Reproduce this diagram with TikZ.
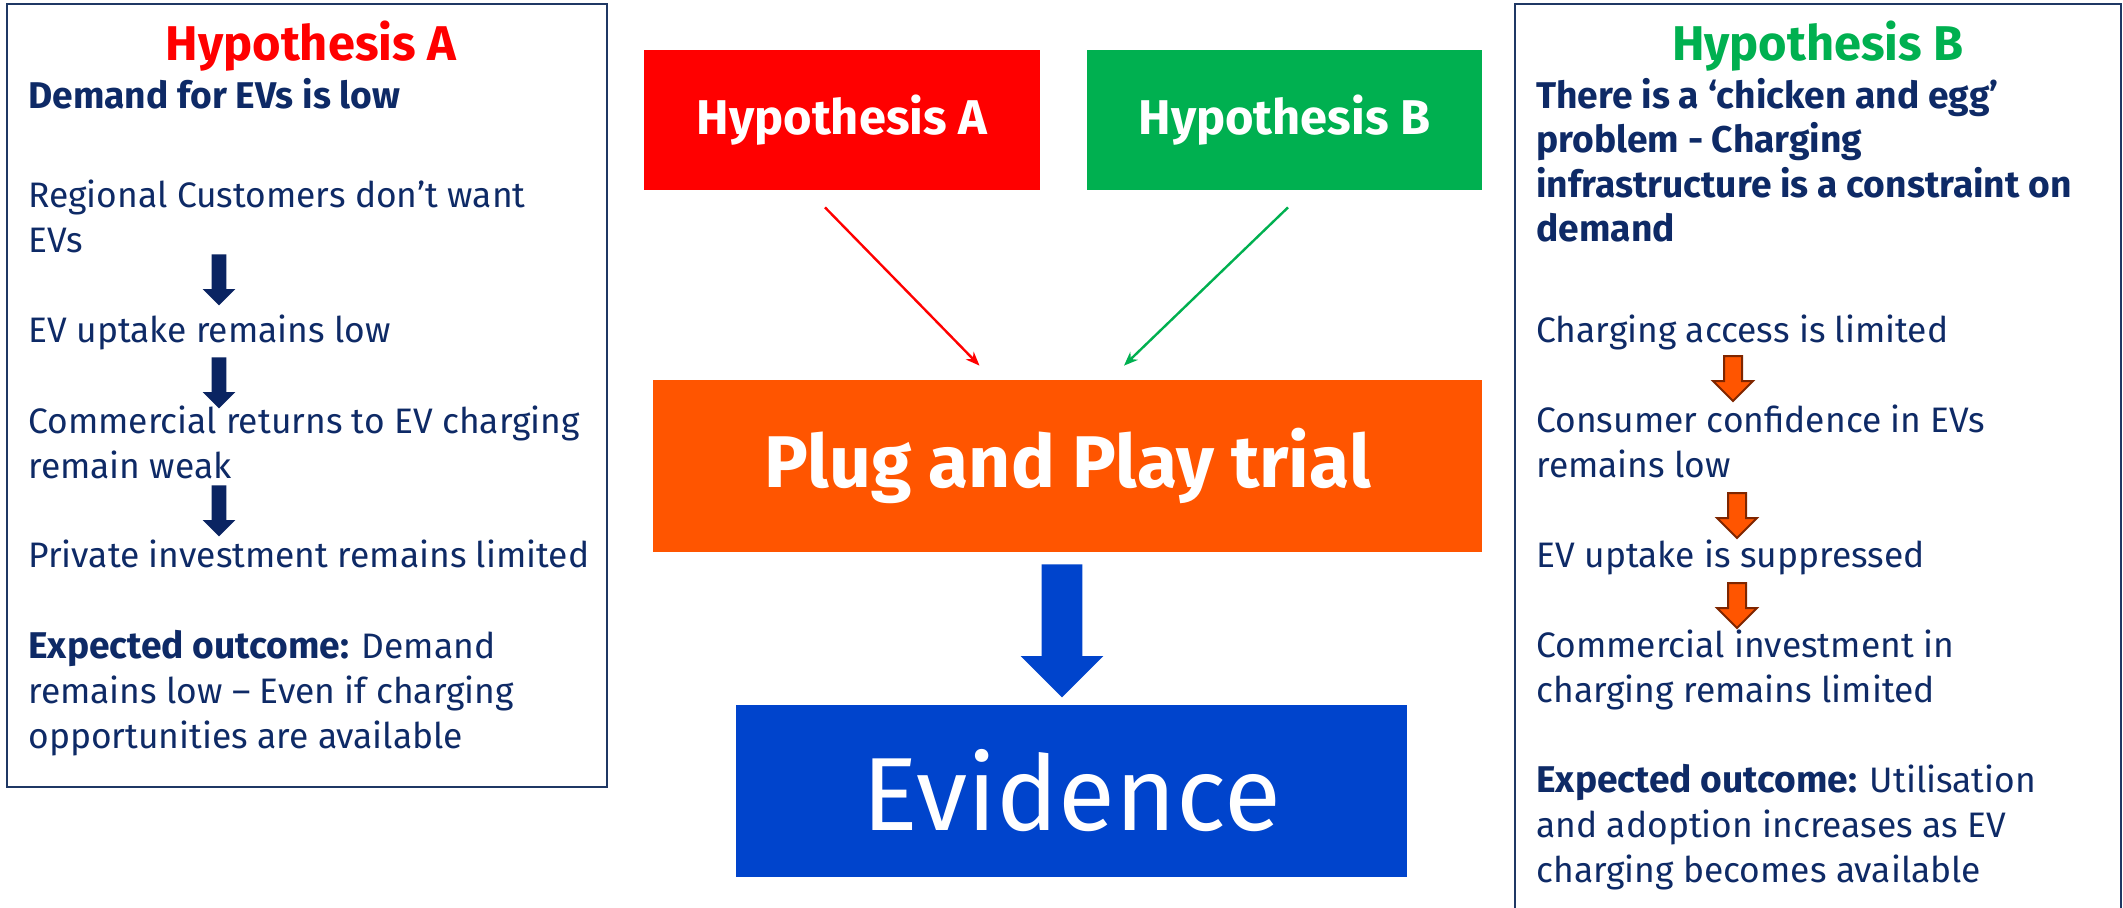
\documentclass[tikz,border=0pt]{standalone}
\usepackage{fontspec}
\setmainfont{Fira Sans}
\usetikzlibrary{arrows.meta,shapes.arrows}
\definecolor{navy}{HTML}{0E2A66}
\definecolor{navyfill}{HTML}{0A2462}
\definecolor{frame}{HTML}{1F3864}
\definecolor{hypred}{HTML}{FF0000}
\definecolor{hypgreen}{HTML}{00B050}
\definecolor{trialorange}{HTML}{FF5500}
\definecolor{arrowbrown}{HTML}{7F2600}
\definecolor{evblue}{HTML}{0044CC}
\newcommand{\keyterm}[1]{{\fontsize{18.6}{22.5}\selectfont\bfseries #1}}

\begin{document}
\begin{tikzpicture}[x=0.5pt, y=-0.5pt,
    panel/.style={draw=frame, line width=1pt, inner sep=0},
    block/.style={inner sep=0, text=white},
    body/.style={anchor=base west, align=left, inner sep=0, text=navy, font=\fontsize{17.7}{22.5}\selectfont},
    claim/.style={body, font=\fontsize{18.6}{22.25}\selectfont\bfseries},
    heading/.style={anchor=base, inner sep=0, font=\fontsize{24.4}{28}\selectfont\bfseries},
    thinarrow/.style={line width=1.2pt, -{Stealth[length=7pt, width=5.5pt]}},
    navyarrow/.style={single arrow, rotate=-90, anchor=tail, fill=navyfill, inner xsep=0, inner ysep=3.5pt,
        minimum width=16pt, minimum height=25.5pt, single arrow head extend=4.5pt},
    orangearrow/.style={single arrow, rotate=-90, anchor=tail, fill=trialorange, draw=arrowbrown, line width=1pt,
        inner xsep=0, inner ysep=4pt, minimum width=19pt, minimum height=22.5pt, single arrow head extend=5.5pt},
    bigarrow/.style={single arrow, rotate=-90, anchor=tail, fill=evblue, inner xsep=0, inner ysep=10pt,
        minimum width=41pt, minimum height=66.5pt, single arrow head extend=10.5pt}]
    \useasboundingbox (0,0) rectangle (2123,907);
    \fill[white] (0,0) rectangle (2123,907);

    \node[panel, minimum width=300pt, minimum height=391.5pt] (pana) at (307,395.5) {};
    \node[panel, minimum width=303pt, minimum height=458pt] (panb) at (1818,462) {};

    \node[heading, text=hypred] (titlea) at (311,60) {Hypothesis A};
    \node[claim] (claima) at (28,108) {Demand for EVs is low};
    \node[body] (a1) at (28,252) {Regional Customers don’t want\\EVs};
    \node[body] (a2) at (28,342) {EV uptake remains low};
    \node[body] (a3) at (28,478) {Commercial returns to EV charging\\remain weak};
    \node[body] (a4) at (28,567) {Private investment remains limited};
    \node[body] (outa) at (28,748) {\keyterm{Expected outcome:} Demand\\remains low – Even if charging\\opportunities are available};
    \node[navyarrow] (da1) at (219,254) {};
    \node[navyarrow] (da2) at (219,357) {};
    \node[navyarrow] (da3) at (219,485) {};

    \node[heading, text=hypgreen] (titleb) at (1818,60) {Hypothesis B};
    \node[claim] (claimb) at (1536,241.5) {There is a ‘chicken and egg’\\problem - Charging\\infrastructure is a constraint on\\demand};
    \node[body] (b1) at (1536,342) {Charging access is limited};
    \node[body] (b2) at (1536,477) {Consumer confidence in EVs\\remains low};
    \node[body] (b3) at (1536,567) {EV uptake is suppressed};
    \node[body] (b4) at (1536,702) {Commercial investment in\\charging remains limited};
    \node[body] (outb) at (1536,882) {\keyterm{Expected outcome:} Utilisation\\and adoption increases as EV\\charging becomes available};
    \node[orangearrow] (db1) at (1733,355) {};
    \node[orangearrow] (db2) at (1737,492) {};
    \node[orangearrow] (db3) at (1737,582) {};

    \node[block, fill=hypred, minimum width=198pt, minimum height=70pt, font=\fontsize{24.4}{28}\selectfont\bfseries] (hypa) at (842,120) {Hypothesis A};
    \node[block, fill=hypgreen, minimum width=197.5pt, minimum height=70pt, font=\fontsize{24.4}{28}\selectfont\bfseries] (hypb) at (1284.5,120) {Hypothesis B};
    \node[block, fill=trialorange, minimum width=414.5pt, minimum height=86pt, font=\fontsize{36.6}{40}\selectfont\bfseries] (plug) at (1067.5,466) {Plug and Play trial};
    \node[block, fill=evblue, minimum width=335.5pt, minimum height=86pt, font=\fontsize{52}{56}\selectfont] (evid) at (1071.5,791) {Evidence};
    \node[bigarrow] (down) at (1062,564) {};

    \draw[thinarrow, hypred] ([shift={(-17,17)}]hypa.south) -- ([shift={(-88,-14)}]plug.north);
    \draw[thinarrow, hypgreen] ([shift={(3.5,17)}]hypb.south) -- ([shift={(56.5,-14)}]plug.north);
\end{tikzpicture}
\end{document}
